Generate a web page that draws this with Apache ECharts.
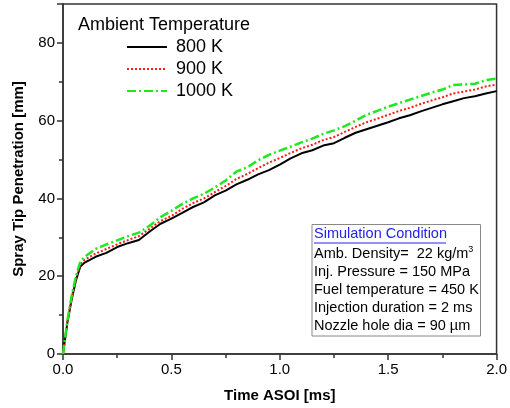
<!DOCTYPE html>
<html><head><meta charset="utf-8">
<script src="https://cdn.jsdelivr.net/npm/echarts@6/dist/echarts.min.js"></script>
<style>html,body{margin:0;padding:0;background:#fff}#c{width:510px;height:408px}</style>
</head><body><div id="c"></div>
<script>
var times = [0,0.02,0.04,0.06,0.08,0.1,0.15,0.2,0.25,0.3,0.35,0.4,0.45,0.5,0.55,0.6,0.65,0.7,0.75,0.8,0.85,0.9,0.95,1.0,1.05,1.1,1.15,1.2,1.25,1.3,1.35,1.4,1.45,1.5,1.55,1.6,1.65,1.7,1.75,1.8,1.85,1.9,1.95,2.0];
var pen800 = [0,8,14,19,22.5,23.5,25,26,27.5,28.5,29.3,31.5,33.5,34.8,36.3,37.8,39,40.8,42,43.6,44.8,46.2,47.3,48.7,50.3,51.6,52.4,53.6,54.2,55.6,56.9,57.8,58.7,59.6,60.6,61.4,62.4,63.3,64.2,65.0,65.8,66.3,67.0,67.6];
var pen900 = [0,8.2,14.5,19.5,23,24.2,25.8,27,28.2,29.3,30.3,32.2,34.2,35.5,37.3,38.8,40,41.6,43.2,45,46.3,47.8,49.2,50.4,51.7,52.9,53.8,55,55.8,57.1,58.4,59.6,60.5,61.5,62.5,63.3,64.3,65.2,66,67,67.5,68,68.8,69.3];
var pen1000 = [0,8.5,15,20,23.8,25,27,28.2,29.2,30.3,31.2,33,35.2,36.8,38.6,40,41.2,42.8,44.6,46.9,48,49.8,51.2,52.3,53.3,54.4,55.4,56.6,57.5,58.6,60,61.5,62.5,63.6,64.5,65.4,66.3,67.2,68,69.2,69.3,69.5,70.4,70.8];
var seriesNames = ['800 K','900 K','1000 K'];
var yTicks = [0,20,40,60,80];
var legendTitle = 'Ambient Temperature';
var xName = 'Time ASOI [ms]';
var yName = 'Spray Tip Penetration [mm]';
var condTitle = 'Simulation Condition';
var condLines = ['Inj. Pressure = 150 MPa','Fuel temperature = 450 K','Injection duration = 2 ms','Nozzle hole dia = 90 \u00b5m'];

function pairs(v){ return times.map(function(t,i){ return [t, v[i]]; }); }
var FONT = 'Liberation Sans, Arial, sans-serif';
var chart = echarts.init(document.getElementById('c'));
var axisCol = '#333';
chart.setOption({
  animation: false,
  backgroundColor: '#fff',
  grid: {left: 63, top: 4, width: 437, height: 350, show: true, borderColor: axisCol, borderWidth: 1.5, backgroundColor: 'transparent'},
  xAxis: {
    type: 'value', min: 0, max: 2, interval: 0.5,
    name: xName, nameLocation: 'middle', nameGap: 34,
    nameTextStyle: {fontFamily: FONT, fontSize: 15, fontWeight: 'bold', color: '#000'},
    axisLine: {lineStyle: {color: axisCol, width: 1.5}},
    axisTick: {length: 6, lineStyle: {color: axisCol, width: 1.5}},
    minorTick: {show: true, splitNumber: 2, length: 4, lineStyle: {color: axisCol, width: 1.5}},
    splitLine: {show: false},
    axisLabel: {fontFamily: FONT, fontSize: 15, color: '#000', margin: 8, formatter: function(v){ return v.toFixed(1); }}
  },
  yAxis: {
    type: 'value', min: 0, max: 90, interval: 20,
    name: yName, nameLocation: 'middle', nameGap: 37, nameRotate: 90,
    nameTextStyle: {fontFamily: FONT, fontSize: 15, fontWeight: 'bold', color: '#000'},
    axisLine: {lineStyle: {color: axisCol, width: 1.5}},
    axisTick: {length: 6, lineStyle: {color: axisCol, width: 1.5}},
    minorTick: {show: true, splitNumber: 2, length: 4, lineStyle: {color: axisCol, width: 1.5}},
    splitLine: {show: false},
    axisLabel: {fontFamily: FONT, fontSize: 15, color: '#000', margin: 8, showMaxLabel: false,
      formatter: function(v){ return yTicks.indexOf(v) >= 0 ? String(v) : ''; }}
  },
  legend: {
    orient: 'vertical', left: 126, top: 38, padding: 0, itemWidth: 40, itemHeight: 14, itemGap: 4,
    itemStyle: {opacity: 0},
    textStyle: {fontFamily: FONT, fontSize: 18, color: '#000', padding: [0,0,0,4]},
    data: seriesNames
  },
  series: [
    {name: seriesNames[0], type: 'line', data: pairs(pen800), showSymbol: false, symbol: 'none', color: '#000',
     lineStyle: {color: '#000', width: 2, type: 'solid'}},
    {name: seriesNames[1], type: 'line', data: pairs(pen900), showSymbol: false, symbol: 'none', color: '#ff1a1a',
     lineStyle: {color: '#ff1a1a', width: 2, type: [2,2]}},
    {name: seriesNames[2], type: 'line', data: pairs(pen1000), showSymbol: false, symbol: 'none', color: '#1ee81e',
     lineStyle: {color: '#1ee81e', width: 2.5, type: [9,3,2,3]}}
  ],
  graphic: [
    {type: 'text', left: 78, top: 16, style: {text: legendTitle, font: '18px ' + FONT, fill: '#000'}},
    {type: 'rect', shape: {x: 312, y: 224.5, width: 168.5, height: 111.5}, style: {fill: '#fff', stroke: '#888', lineWidth: 1}},
    {type: 'text', left: 314, top: 226, style: {text: condTitle, font: '14.5px ' + FONT, fill: '#2222ee'}},
    {type: 'line', shape: {x1: 314, y1: 243, x2: 446, y2: 243}, style: {stroke: '#2222ee', lineWidth: 1}},
    {type: 'text', left: 314, top: 245, style: {
      text: '{a|Amb. Density=  22 kg/m}{s|3}',
      rich: {a: {font: '14.5px ' + FONT, fill: '#000'}, s: {font: '9px ' + FONT, fill: '#000', verticalAlign: 'top', padding: [0,0,8,0]}}
    }},
    {type: 'text', left: 314, top: 264, style: {text: condLines[0], font: '14.5px ' + FONT, fill: '#000'}},
    {type: 'text', left: 314, top: 282, style: {text: condLines[1], font: '14.5px ' + FONT, fill: '#000'}},
    {type: 'text', left: 314, top: 300, style: {text: condLines[2], font: '14.5px ' + FONT, fill: '#000'}},
    {type: 'text', left: 314, top: 318, style: {text: condLines[3], font: '14.5px ' + FONT, fill: '#000'}}
  ]
});
</script></body></html>
